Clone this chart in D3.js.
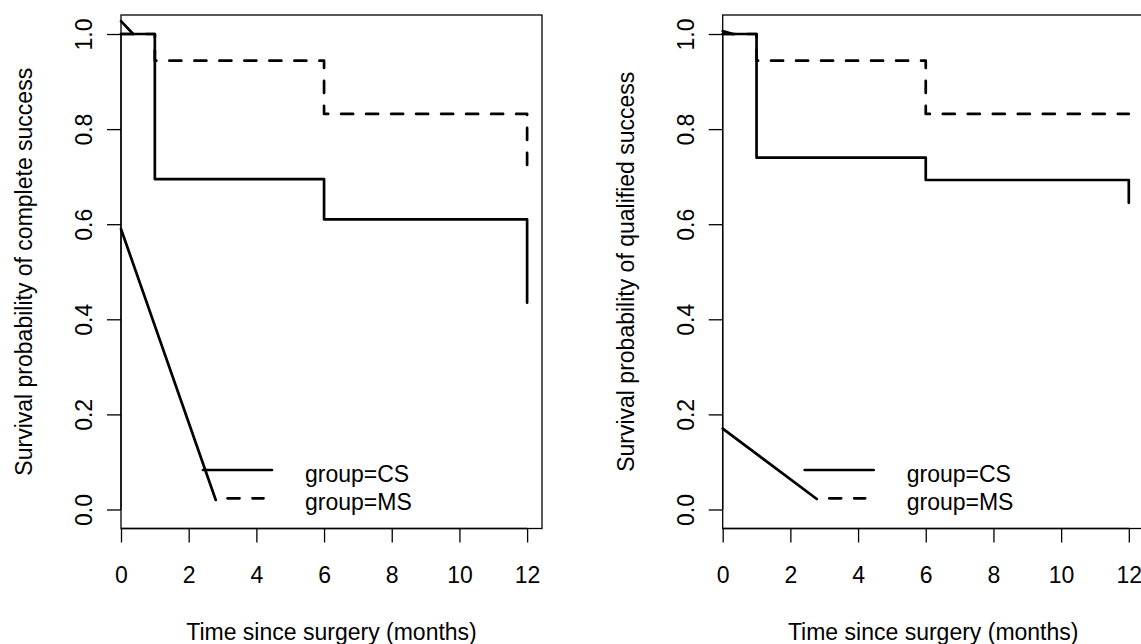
<!DOCTYPE html>
<html lang="en">
  <head>
    <meta charset="utf-8" />
    <title>Survival curves - complete and qualified success</title>
    <script src="https://cdnjs.cloudflare.com/ajax/libs/d3/7.8.5/d3.min.js"></script>
    <style>
      body { margin: 0; background: #fff; }
      text { font-family: "Liberation Sans", Arial, sans-serif; fill: #000; }
    </style>
  </head>
  <body>
    <script type="text/javascript">
      /*************************** Data ***************************/

      var xTicks = [0, 2, 4, 6, 8, 10, 12];
      var yTicks = [0, 0.2, 0.4, 0.6, 0.8, 1.0];
      var groupNames = ["group=CS", "group=MS"];
      var yTitles = [
        "Survival probability of complete success",
        "Survival probability of qualified success"
      ];
      var xTitle = "Time since surgery (months)";

      // step curves, one point per event time (t, S(t))
      var completeCS = [[0, 1.0], [1, 0.695], [6, 0.61], [12, 0.435]];
      var completeMS = [[0, 1.0], [1, 0.944], [6, 0.832], [12, 0.70]];
      var qualifiedCS = [[0, 1.0], [1, 0.74], [6, 0.693], [12, 0.645]];
      var qualifiedMS = [[0, 1.0], [1, 0.944], [6, 0.832], [12, 0.832]];

      // stray straight segments seen in the picture
      var completeStray = [
        [[0, 1.027], [0.36, 1.0]],
        [[0, 0.59], [2.8, 0.02]]
      ];
      var qualifiedStray = [
        [[0, 1.006], [0.3, 1.0]],
        [[0, 0.17], [2.78, 0.022]]
      ];

      /*************************** Layout ***************************/

      var W = 1141, H = 644;
      var boxW = 421, boxTop = 15, boxBottom = 528.5;
      var panels = [
        { left: 121, cs: completeCS, ms: completeMS, stray: completeStray, ytitle: yTitles[0] },
        { left: 722.7, cs: qualifiedCS, ms: qualifiedMS, stray: qualifiedStray, ytitle: yTitles[1] }
      ];
      var fontSize = 23;
      var curveW = 2.7, axisW = 1.3;

      var svg = d3.select("body").append("svg")
        .attr("width", W).attr("height", H);
      svg.append("rect").attr("width", W).attr("height", H).attr("fill", "#fff");

      panels.forEach(function (p) {
        var x = d3.scaleLinear().domain([0, 12.44]).range([p.left, p.left + boxW]);
        var y = d3.scaleLinear().domain([-0.04, 1.04]).range([boxBottom, boxTop]);
        var g = svg.append("g");

        // box
        g.append("rect")
          .attr("x", p.left).attr("y", boxTop)
          .attr("width", boxW).attr("height", boxBottom - boxTop)
          .attr("fill", "none").attr("stroke", "#000").attr("stroke-width", axisW);

        // x axis
        var xa = g.append("g").attr("transform", "translate(0," + boxBottom + ")")
          .call(d3.axisBottom(x).tickValues(xTicks).tickSize(14).tickSizeOuter(0).tickFormat(d3.format("d")));
        // y axis
        var ya = g.append("g").attr("transform", "translate(" + p.left + ",0)")
          .call(d3.axisLeft(y).tickValues(yTicks).tickSize(14).tickSizeOuter(0).tickFormat(d3.format(".1f")));
        [xa, ya].forEach(function (a) {
          a.select(".domain").attr("stroke-width", axisW);
          a.selectAll(".tick line").attr("stroke-width", axisW);
          a.selectAll("text").attr("font-size", fontSize)
            .attr("font-family", "Liberation Sans, Arial, sans-serif");
        });
        xa.select(".domain").attr("d", "M" + x(0) + ",0H" + x(12));
        ya.select(".domain").attr("d", "M0," + y(0) + "V" + y(1));
        xa.selectAll(".tick text").attr("dy", null).attr("y", 54);
        ya.selectAll(".tick text")
          .attr("x", null).attr("dy", null)
          .attr("text-anchor", "middle")
          .attr("transform", "translate(-29,0) rotate(-90)");

        // axis titles
        g.append("text")
          .attr("x", p.left + boxW / 2).attr("y", 640)
          .attr("text-anchor", "middle").attr("font-size", fontSize)
          .text(xTitle);
        g.append("text")
          .attr("transform", "translate(" + (p.left - 89) + "," + ((boxTop + boxBottom) / 2) + ") rotate(-90)")
          .attr("text-anchor", "middle").attr("font-size", fontSize)
          .text(p.ytitle);

        // curves
        var step = d3.line().x(function (d) { return x(d[0]); }).y(function (d) { return y(d[1]); })
          .curve(d3.curveStepAfter);
        var straight = d3.line().x(function (d) { return x(d[0]); }).y(function (d) { return y(d[1]); });

        g.append("path").attr("d", step(p.ms))
          .attr("fill", "none").attr("stroke", "#000").attr("stroke-width", curveW)
          .attr("stroke-dasharray", "12,13").attr("stroke-linecap", "round").attr("stroke-linejoin", "round");
        g.append("path").attr("d", step(p.cs))
          .attr("fill", "none").attr("stroke", "#000").attr("stroke-width", curveW)
          .attr("stroke-linecap", "round").attr("stroke-linejoin", "round");
        p.stray.forEach(function (s) {
          g.append("path").attr("d", straight(s))
            .attr("fill", "none").attr("stroke", "#000").attr("stroke-width", curveW)
            .attr("stroke-linecap", "round");
        });

        // legend
        var legX0 = p.left + 82, legX1 = p.left + 151, legText = p.left + 184;
        var rowY = [470, 498.3];
        g.append("line")
          .attr("x1", legX0).attr("x2", legX1).attr("y1", rowY[0]).attr("y2", rowY[0])
          .attr("stroke", "#000").attr("stroke-width", curveW).attr("stroke-linecap", "round");
        g.append("line")
          .attr("x1", p.left + 106.5).attr("x2", p.left + 142.5).attr("y1", rowY[1]).attr("y2", rowY[1])
          .attr("stroke", "#000").attr("stroke-width", curveW)
          .attr("stroke-dasharray", "12,13").attr("stroke-linecap", "round");
        groupNames.forEach(function (n, i) {
          g.append("text")
            .attr("x", legText).attr("y", rowY[i] + 12)
            .attr("font-size", fontSize)
            .text(n);
        });
      });
    </script>
  </body>
</html>
